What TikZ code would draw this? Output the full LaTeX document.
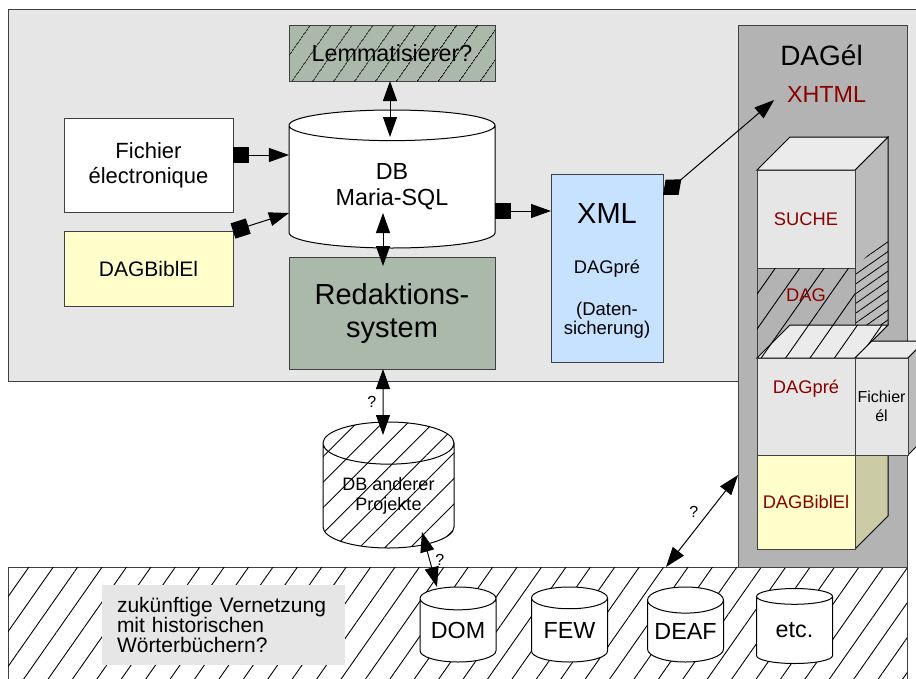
\documentclass[tikz,border=0pt]{standalone}
\usepackage{fontspec}
\setmainfont{Liberation Sans}
\usetikzlibrary{arrows.meta,shapes.geometric,patterns.meta,positioning}

\definecolor{panelgray}{HTML}{E6E6E6}
\definecolor{topgray}{HTML}{EBEBEB}
\definecolor{sage}{HTML}{AAB9AA}
\definecolor{paleyellow}{HTML}{FFFFCC}
\definecolor{paleblue}{HTML}{C6E2FF}
\definecolor{colgray}{HTML}{B3B3B3}
\definecolor{sidegray}{HTML}{BBBBBB}
\definecolor{bibside}{HTML}{CBCBA6}
\definecolor{darkred}{HTML}{8B0000}

\tikzset{
  area/.style={draw=black!75, inner sep=0pt, outer sep=0pt},
  box/.style={draw=black!75, inner sep=0pt, outer sep=0pt, align=center},
  dbcyl/.style={cylinder, shape border rotate=90, draw, fill=white, inner sep=0pt, outer sep=0pt, align=center, anchor=shape center},
  hatch/.style={postaction={pattern={Lines[angle=55,distance=20pt,line width=0.9pt]}}},
  hatchfine/.style={postaction={pattern={Lines[angle=55,distance=17pt,line width=0.9pt]}}},
  hatchcyl/.style={postaction={pattern={Lines[angle=45,distance=18pt,line width=0.9pt]}}},
  hatchdense/.style={pattern={Lines[angle=35,distance=8pt,line width=0.8pt]}},
  f16/.style={font=\fontsize{16}{19}\selectfont},
  f18/.style={font=\fontsize{18.3}{20}\selectfont},
  f21/.style={font=\fontsize{21}{20}\selectfont},
  f22/.style={font=\fontsize{22}{25}\selectfont},
  f23/.style={font=\fontsize{23.3}{26}\selectfont},
  f28/.style={font=\fontsize{28}{32}\selectfont},
  f29/.style={font=\fontsize{29}{33}\selectfont},
  biarrow/.style={{Triangle[length=20pt,width=14pt]}-{Triangle[length=20pt,width=14pt]}, line width=1pt},
  sqarrow/.style={{Square[length=16pt,width=16pt]}-{Triangle[length=20pt,width=14pt]}, line width=1pt},
  diarrow/.style={{Diamond[length=24pt,width=20pt]}-{Triangle[length=20pt,width=14pt]}, line width=1pt}
}

\begin{document}
\begin{tikzpicture}[x=1pt, y=-1pt, line width=1pt]
    \useasboundingbox (0,0) rectangle (916,678);

    % areas
    \node (panel) [area, fill=panelgray, minimum width=920pt, minimum height=372pt] at (468,195) {};
    \node (band) [area, fill=white, hatch, minimum width=899pt, minimum height=130pt] at (457.5,632) {};
    \node (dagel) [area, fill=colgray, minimum width=169pt, minimum height=542pt] at (822.5,296) {};

    % editing side
    \node (lemm) [box, fill=sage, hatchfine, minimum width=206pt, minimum height=56pt, f23] at (392,53) {Lemmatisierer?};
    \node (db) [dbcyl, aspect=0.272, minimum width=206pt, minimum height=138pt, f23] at (392,179) {DB\\Maria-SQL};
    \node (fich) [box, fill=white, minimum width=169pt, minimum height=94pt, f22] at (148.5,165) {Fichier\\électronique};
    \node (bibl) [box, fill=paleyellow, minimum width=169pt, minimum height=75pt, f21] at (148.5,268.5) {DAGBiblEl};
    \node (red) [box, fill=sage, minimum width=206pt, minimum height=112pt, f29] at (392,313) {Redaktions-\\system};
    \node (xml) [box, fill=paleblue, minimum width=112pt, minimum height=188pt] at (607,268) {};
    \node (xmltitle) [anchor=base, f29] at (607,223) {XML};
    \node (xmlsub) [anchor=base, f18] at (607,273) {DAGpré};
    \node (xmlnote) [align=center, font=\fontsize{18.5}{19.5}\selectfont] at (607,320) {(Daten-\\sicherung)};

    % DAGel column
    \node (dageltitle) [anchor=base, f28] at (821.5,65) {DAGél};
    \node (xhtml) [anchor=base, text=darkred, f23] at (826.5,102) {XHTML};

    \filldraw [fill=sidegray] (855,170) -- (888,137) -- (888,325) -- (855,358) -- cycle;
    \path [hatchdense] (855,268) -- (888,235) -- (888,325) -- (855,358) -- cycle;
    \filldraw [fill=topgray] (757,170) -- (855,170) -- (888,137) -- (790,137) -- cycle;
    \node (suche) [box, fill=panelgray, minimum width=98pt, minimum height=98pt, text=darkred, f18] at (806,219) {SUCHE};
    \node (dag) [box, fill=colgray, hatch, minimum width=98pt, minimum height=90pt] at (806,313) {};
    \node (dagtxt) [text=darkred, f18] at (806,295) {DAG};

    \filldraw [fill=bibside] (855,455) -- (888,422) -- (888,516) -- (855,549) -- cycle;
    \node (biblel) [box, fill=paleyellow, minimum width=98pt, minimum height=94pt, text=darkred, f18] at (806,502) {DAGBiblEl};
    \filldraw [fill=topgray, hatch] (757,358) -- (855,358) -- (888,325) -- (790,325) -- cycle;
    \filldraw [fill=topgray] (855,358) -- (908,358) -- (925,341) -- (872,341) -- cycle;
    \filldraw [fill=sidegray] (908,358) -- (925,341) -- (925,438) -- (908,455) -- cycle;
    \node (dagpre) [box, fill=panelgray, minimum width=98pt, minimum height=97pt] at (806,406.5) {};
    \node (dagpretxt) [text=darkred, f18] at (806,389) {DAGpré};
    \node (fichel) [box, fill=panelgray, minimum width=53pt, minimum height=97pt, f16] at (881.5,406.5) {Fichier\\él};

    % other databases
    \node (dbo) [dbcyl, aspect=0.458, hatchcyl, minimum width=131pt, minimum height=126pt, font=\fontsize{18}{20}\selectfont] at (388.5,485) {DB anderer\\Projekte};
    \node (future) [fill=panelgray, text width=213pt, minimum height=80pt, inner xsep=15pt, align=left, f21] at (223.5,625) {zukünftige Vernetzung\\mit historischen\\Wörterbüchern?};
    \node (dom) [dbcyl, aspect=0.42, minimum width=76pt, minimum height=75pt, f23] at (458,624.5) {DOM};
    \node (few) [dbcyl, aspect=0.42, minimum width=76pt, minimum height=75pt, f23] at (569.5,624.5) {FEW};
    \node (deaf) [dbcyl, aspect=0.42, minimum width=76pt, minimum height=75pt, f23] at (685.5,624.5) {DEAF};
    \node (etc) [dbcyl, aspect=0.42, minimum width=76pt, minimum height=75pt, f23] at (794.5,626) {etc.};

    % connectors
    \path [biarrow] ([xshift=-2pt]lemm.south) edge ([xshift=-2pt,yshift=-27pt]db.north);
    \path [sqarrow] (fich.east |- 0,155) edge (db.west |- 0,155);
    \path [sqarrow] (bibl.north east) edge (db.west |- 0,213);
    \path [biarrow] ([xshift=-9pt,yshift=35pt]db.south) edge ([xshift=-9pt,yshift=-9pt]red.north);
    \path [sqarrow] (db.east |- 0,211) edge (xml.west |- 0,211);
    \path [diarrow] (xml.east |- 0,195) edge ([xshift=-9pt,yshift=-6pt]xhtml.west);
    \path [biarrow] ([xshift=-9pt]red.south) edge node [left=3pt, f16] {?} ([xshift=-5.5pt,yshift=-13pt]dbo.north);
    \path [biarrow] ([xshift=33.5pt,yshift=16pt]dbo.south) edge node [right=2pt, f16] {?} ([xshift=-21pt]dom.north);
    \path [biarrow] (band.north -| 666,0) edge node [above left, f16] {?} (dagel.west |- 0,475);
\end{tikzpicture}
\end{document}
